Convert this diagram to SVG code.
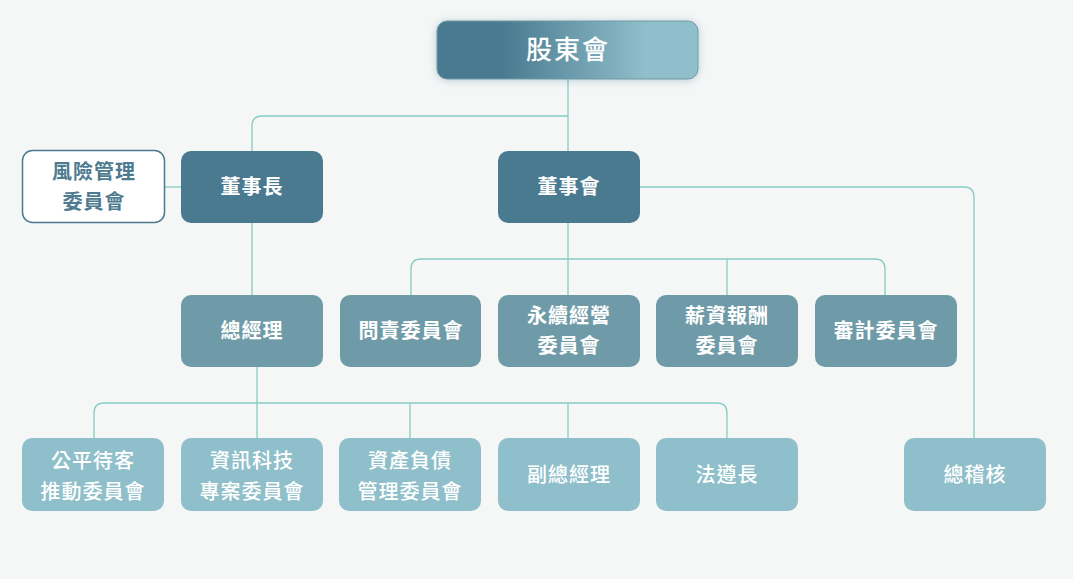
<svg xmlns="http://www.w3.org/2000/svg" width="1073" height="579" viewBox="0 0 1073 579">
<style>
.bg{fill:#f5f7f7}
.n2{fill:#4a7a90}
.n3{fill:#6f9ba8}
.n4{fill:#8fbfca}
.risk{fill:#ffffff;stroke:#4a7a90;stroke-width:1.5}
.t{font-family:"Noto Sans CJK TC","Noto Sans CJK SC",sans-serif;font-size:20px;fill:#ffffff;text-anchor:middle;letter-spacing:1px}
.b{font-weight:700}
.m{font-weight:500}
.rt{fill:#4e7b8f}
.top{font-size:26px;font-weight:500;letter-spacing:2px}
.c{fill:none;stroke:#86cbc4;stroke-width:1.3}
</style>
<defs>
<linearGradient id="g" x1="0" y1="0" x2="1" y2="0">
<stop offset="0.25" stop-color="#4a7a90"/>
<stop offset="0.8" stop-color="#8fbfca"/>
</linearGradient>
<filter id="sh" x="-20%" y="-40%" width="140%" height="180%">
<feDropShadow dx="0" dy="1" stdDeviation="4" flood-color="#4a7a90" flood-opacity="0.35"/>
</filter>
</defs>
<rect class="bg" x="0" y="0" width="1073" height="579"/>
<g id="connectors">
<path class="c" d="M568 79 V151"/>
<path class="c" d="M568 116 H262 Q252 116 252 126 V151"/>
<path class="c" d="M165 187 H181"/>
<path class="c" d="M252 223 V295"/>
<path class="c" d="M568 223 V295"/>
<path class="c" d="M421 259 H875 Q885 259 885 269 V295"/>
<path class="c" d="M421 259 Q411 259 411 269 V295"/>
<path class="c" d="M727 259 V295"/>
<path class="c" d="M640 187 H964 Q974 187 974 197 V438"/>
<path class="c" d="M257 367 V438"/>
<path class="c" d="M104 403 H717 Q727 403 727 413 V438"/>
<path class="c" d="M104 403 Q94 403 94 413 V438"/>
<path class="c" d="M410 403 V438"/>
<path class="c" d="M568 403 V438"/>
</g>
<g id="shareholders">
<rect x="437" y="21" width="261" height="58" rx="10" fill="url(#g)" stroke="#6f9ba8" stroke-width="1" filter="url(#sh)"/>
<text class="t top" x="568" y="59">股東會</text>
</g>
<g id="chairman">
<rect class="n2" x="181" y="151" width="142" height="72" rx="10"/>
<text class="t b" x="252" y="194">董事長</text>
</g>
<g id="risk">
<rect class="risk" x="22.5" y="150.5" width="142" height="72" rx="10"/>
<text class="t b rt" x="94" y="179">風險管理</text>
<text class="t b rt" x="94" y="209">委員會</text>
</g>
<g id="board">
<rect class="n2" x="498" y="151" width="142" height="72" rx="10"/>
<text class="t b" x="569" y="194">董事會</text>
</g>
<g id="president">
<rect class="n3" x="181" y="295" width="142" height="72" rx="10"/>
<text class="t b" x="252" y="338">總經理</text>
</g>
<g id="accountability">
<rect class="n3" x="340" y="295" width="141" height="72" rx="10"/>
<text class="t b" x="411" y="338">問責委員會</text>
</g>
<g id="sustainability">
<rect class="n3" x="498" y="295" width="142" height="72" rx="10"/>
<text class="t b" x="569" y="323">永續經營</text>
<text class="t b" x="569" y="353">委員會</text>
</g>
<g id="compensation">
<rect class="n3" x="656" y="295" width="142" height="72" rx="10"/>
<text class="t b" x="727" y="323">薪資報酬</text>
<text class="t b" x="727" y="353">委員會</text>
</g>
<g id="audit">
<rect class="n3" x="815" y="295" width="142" height="72" rx="10"/>
<text class="t b" x="886" y="338">審計委員會</text>
</g>
<g id="fair">
<rect class="n4" x="22" y="438" width="142" height="73" rx="10"/>
<text class="t m" x="93" y="468">公平待客</text>
<text class="t m" x="93" y="499">推動委員會</text>
</g>
<g id="it">
<rect class="n4" x="181" y="438" width="142" height="73" rx="10"/>
<text class="t m" x="252" y="468">資訊科技</text>
<text class="t m" x="252" y="499">專案委員會</text>
</g>
<g id="alm">
<rect class="n4" x="339" y="438" width="142" height="73" rx="10"/>
<text class="t m" x="410" y="468">資產負債</text>
<text class="t m" x="410" y="499">管理委員會</text>
</g>
<g id="vp">
<rect class="n4" x="498" y="438" width="142" height="73" rx="10"/>
<text class="t m" x="569" y="482">副總經理</text>
</g>
<g id="compliance">
<rect class="n4" x="656" y="438" width="142" height="73" rx="10"/>
<text class="t m" x="727" y="482">法遵長</text>
</g>
<g id="chief-auditor">
<rect class="n4" x="904" y="438" width="142" height="73" rx="10"/>
<text class="t m" x="975" y="482">總稽核</text>
</g>
</svg>
